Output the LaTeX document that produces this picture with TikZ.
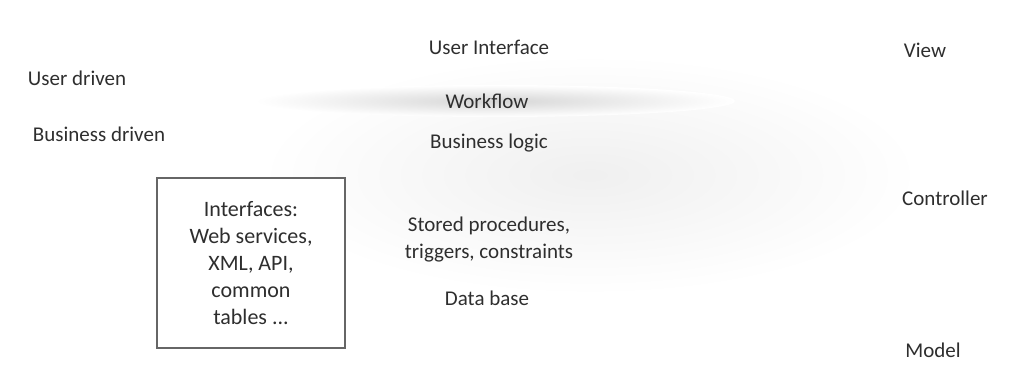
\documentclass[tikz,border=0pt]{standalone}
\usepackage{fontspec}
\setmainfont{Carlito}
\begin{document}
\begin{tikzpicture}[x=1pt,y=-1pt,
  lbl/.style={font=\fontsize{21}{27}\selectfont, text=black!82, inner sep=0pt, align=center},
  boxlbl/.style={font=\fontsize{22}{27}\selectfont, text=black!82, inner sep=0pt, align=center},
  ifbox/.style={draw=black!60, line width=1.1pt, minimum width=188pt, minimum height=170pt, inner sep=0pt}]
\useasboundingbox (0,0) rectangle (1010,375);
% faint background cloud
\shade[inner color=black!6, outer color=white] (590,175) ellipse [x radius=330, y radius=120];
\shade[inner color=black!16, outer color=white] (495,101) ellipse [x radius=240, y radius=16];
% labels
\node[lbl] (ui) at (489,47) {User Interface};
\node[lbl] (view) at (925,50) {View};
\node[lbl] (ud) at (77,78) {User driven};
\node[lbl] (bd) at (99,134) {Business driven};
\node[lbl] (wf) at (487,101) {Workflow};
\node[lbl] (bl) at (489,143) {Business logic};
\node[lbl] (ctrl) at (945,198) {Controller};
\node[lbl] (sp) at (489,240) {Stored procedures,\\triggers, constraints};
\node[lbl] (db) at (487,298) {Data base};
\node[lbl] (model) at (933,350) {Model};
\node[ifbox, fill=white] (box) at (251,263) {};
\node[boxlbl] (boxtxt) at (box.center) {Interfaces:\\Web services,\\XML, API,\\common\\tables ...};
\end{tikzpicture}
\end{document}
